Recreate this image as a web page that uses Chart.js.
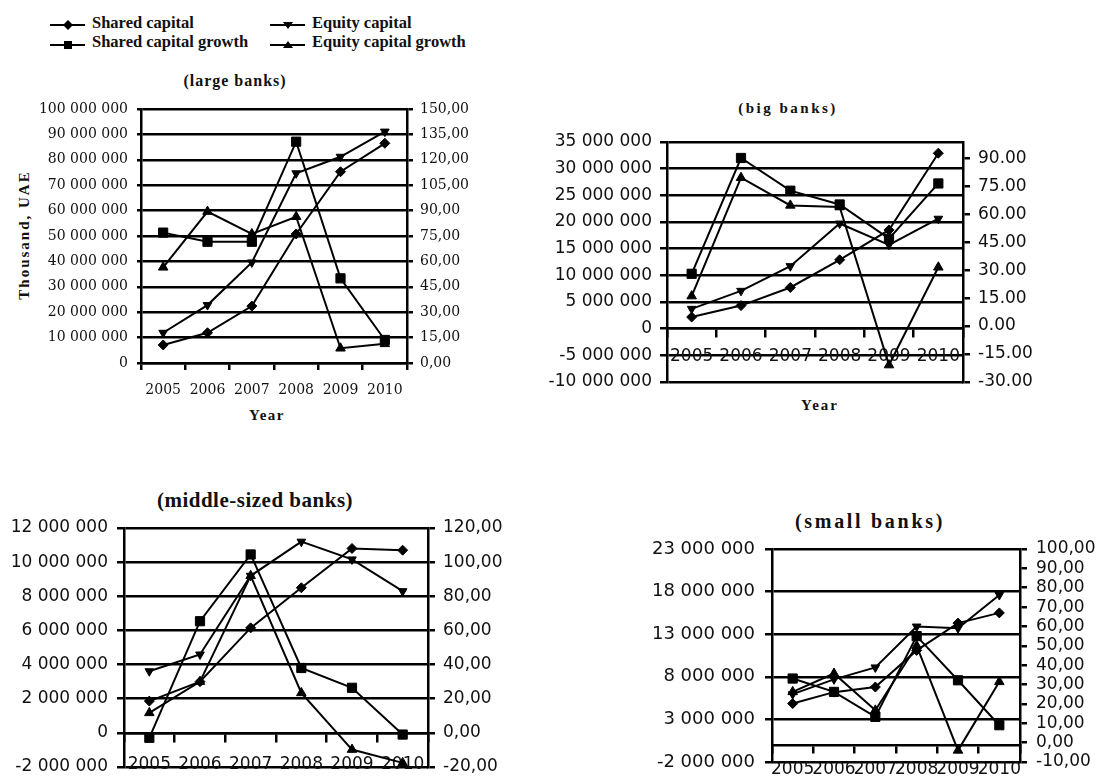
<!DOCTYPE html>
<html><head><meta charset="utf-8">
<script src="https://cdn.jsdelivr.net/npm/chart.js@4.4.1/dist/chart.umd.min.js"></script>
<style>
html,body{margin:0;padding:0;background:#fff;width:1102px;height:776px;overflow:hidden;}
canvas{position:absolute;}
.t{position:absolute;text-align:center;white-space:nowrap;color:#111;font-family:'Liberation Serif','Times New Roman',serif;font-weight:bold;}
.lg{position:absolute;white-space:nowrap;color:#111;font-family:'Liberation Serif','Times New Roman',serif;font-weight:bold;font-size:16.5px;line-height:17px;}
</style></head><body>
<svg style="position:absolute;left:0;top:0" width="480" height="60">
  <line x1="50" y1="25" x2="85" y2="25" stroke="#000" stroke-width="2"/>
  <polygon points="68,20 73,25 68,30 63,25" fill="#000"/>
  <line x1="270" y1="25" x2="305" y2="25" stroke="#000" stroke-width="2"/>
  <polygon points="283,22 293,22 288,29" fill="#000"/>
  <line x1="50" y1="45" x2="85" y2="45" stroke="#000" stroke-width="2"/>
  <rect x="64" y="41" width="8" height="8" fill="#000"/>
  <line x1="270" y1="45" x2="305" y2="45" stroke="#000" stroke-width="2"/>
  <polygon points="283,48 293,48 288,41" fill="#000"/>
</svg>
<div class="lg" id="lg0" style="left:92px;top:14px"></div>
<div class="lg" id="lg1" style="left:312px;top:14px"></div>
<div class="lg" id="lg2" style="left:92px;top:33px"></div>
<div class="lg" id="lg3" style="left:312px;top:33px"></div>

<div class="t" style="left:135px;width:200px;top:73px;font-size:16px;line-height:16px;letter-spacing:1px">(large banks)</div>
<div class="t" style="left:-76px;width:200px;top:227px;height:16px;font-size:15px;line-height:16px;letter-spacing:2px;transform:rotate(-90deg);transform-origin:100px 8px">Thousand, UAE</div>
<div class="t" style="left:217px;width:100px;top:407px;font-size:15px;line-height:16px;letter-spacing:1.5px">Year</div>

<div class="t" style="left:688px;width:200px;top:100px;font-size:15px;line-height:16px;letter-spacing:2.5px">(big banks)</div>
<div class="t" style="left:770px;width:100px;top:397px;font-size:15px;line-height:16px;letter-spacing:2px">Year</div>

<div class="t" style="left:105px;width:300px;top:489px;font-size:21px;line-height:22px;letter-spacing:0.5px">(middle-sized banks)</div>
<div class="t" style="left:720px;width:300px;top:511px;font-size:20px;line-height:21px;letter-spacing:2.7px">(small banks)</div>

<canvas id="cLarge" width="480" height="310" style="left:0;top:90px"></canvas>
<canvas id="cBig" width="540" height="280" style="left:520px;top:120px"></canvas>
<canvas id="cMid" width="520" height="285" style="left:0;top:505px"></canvas>
<canvas id="cSmall" width="462" height="265" style="left:640px;top:525px"></canvas>

<script>
// ---------- data ----------
const years = ['2005', '2006', '2007', '2008', '2009', '2010'];
const seriesNames = ['Shared capital', 'Equity capital', 'Shared capital growth', 'Equity capital growth'];

// large banks
const largeShared = [7100000, 11900000, 22400000, 50800000, 75300000, 86500000];
const largeEquity = [11900000, 22800000, 39600000, 74700000, 81200000, 91100000];
const largeSharedGrowth = [77.0, 71.6, 71.6, 130.7, 50.0, 13.6];
const largeEquityGrowth = [56.5, 89.4, 76.2, 86.4, 8.7, 11.3];
const largeLeftTicks = ['0', '10 000 000', '20 000 000', '30 000 000', '40 000 000', '50 000 000', '60 000 000', '70 000 000', '80 000 000', '90 000 000', '100 000 000'];
const largeRightTicks = ['0,00', '15,00', '30,00', '45,00', '60,00', '75,00', '90,00', '105,00', '120,00', '135,00', '150,00'];

// big banks
const bigShared = [2150000, 4300000, 7700000, 12900000, 18500000, 32900000];
const bigEquity = [3690000, 7070000, 11700000, 19700000, 15700000, 20600000];
const bigSharedGrowth = [28.1, 90.4, 72.8, 65.4, 47.0, 76.7];
const bigEquityGrowth = [16.1, 79.8, 64.9, 64.0, -21.0, 31.6];
const bigLeftTicks = ['-10 000 000', '-5 000 000', '0', '5 000 000', '10 000 000', '15 000 000', '20 000 000', '25 000 000', '30 000 000', '35 000 000'];
const bigRightTicks = ['-30.00', '-15.00', '0.00', '15.00', '30.00', '45.00', '60.00', '75.00', '90.00'];
const bigRightMax = 99;

// middle-sized banks
const midShared = [1860000, 3000000, 6150000, 8500000, 10800000, 10700000];
const midEquity = [3610000, 4590000, 9200000, 11200000, 10160000, 8300000];
const midSharedGrowth = [-2.9, 65.4, 104.5, 38.0, 26.4, -1.0];
const midEquityGrowth = [11.7, 30.0, 92.0, 23.4, -9.8, -17.6];
const midLeftTicks = ['-2 000 000', '0', '2 000 000', '4 000 000', '6 000 000', '8 000 000', '10 000 000', '12 000 000'];
const midRightTicks = ['-20,00', '0,00', '20,00', '40,00', '60,00', '80,00', '100,00', '120,00'];

// small banks
const smallShared = [4860000, 6200000, 6800000, 11100000, 14300000, 15500000];
const smallEquity = [5960000, 7700000, 9100000, 13900000, 13700000, 17600000];
const smallSharedGrowth = [33.1, 26.2, 13.3, 55.0, 32.2, 9.0];
const smallEquityGrowth = [26.2, 35.7, 16.7, 50.0, -4.0, 31.4];
const smallLeftTicks = ['-2 000 000', '3 000 000', '8 000 000', '13 000 000', '18 000 000', '23 000 000'];
const smallRightTicks = ['-10,00', '0,00', '10,00', '20,00', '30,00', '40,00', '50,00', '60,00', '70,00', '80,00', '90,00', '100,00'];

// ---------- helpers ----------
seriesNames.forEach((n, i) => { document.getElementById('lg' + i).textContent = n; });

function toNum(s) { return parseFloat(s.replace(/\s/g, '').replace(',', '.')); }

const GRID_W = 2.5;

function yAxis(labels, side, o) {
  const vals = labels.map(toNum);
  return {
    type: 'linear', position: side,
    min: (o.min !== undefined) ? o.min : vals[0],
    max: (o.max !== undefined) ? o.max : vals[vals.length - 1],
    afterBuildTicks: s => { s.ticks = vals.map(v => ({ value: v })); },
    afterFit: s => { s.width = o.width; },
    grid: { drawOnChartArea: side === 'left', drawTicks: true, tickLength: o.tickLength, color: '#000', lineWidth: GRID_W },
    border: { display: true, color: '#000', width: GRID_W },
    ticks: { autoSkip: false, padding: o.padding, color: '#111', font: o.font, callback: (v, i) => labels[i] }
  };
}

function xAxis(o) {
  const ax = {
    type: 'category', offset: true,
    position: o.atZero ? { y: 0 } : 'bottom',
    grid: { drawOnChartArea: false, drawTicks: true, tickLength: o.tickLength, color: '#000', lineWidth: GRID_W, offset: true },
    border: { display: true, color: '#000', width: GRID_W },
    ticks: { autoSkip: false, maxRotation: 0, minRotation: 0, padding: o.padding, color: '#111', font: o.font }
  };
  if (!o.atZero) ax.afterFit = s => { s.height = o.height; };
  return ax;
}

function makeDatasets(sh, eq, shg, eqg) {
  const base = { borderColor: '#000', backgroundColor: '#000', borderWidth: 2, pointBackgroundColor: '#000', pointBorderColor: '#000', pointBorderWidth: 1, tension: 0, fill: false, clip: false };
  return [
    Object.assign({}, base, { label: seriesNames[0], data: sh, yAxisID: 'y', pointStyle: 'rectRot', pointRadius: 5 }),
    Object.assign({}, base, { label: seriesNames[1], data: eq, yAxisID: 'y', pointStyle: 'triangle', pointRotation: 180, pointRadius: 5 }),
    Object.assign({}, base, { label: seriesNames[2], data: shg, yAxisID: 'y1', pointStyle: 'rect', pointRadius: 6.5 }),
    Object.assign({}, base, { label: seriesNames[3], data: eqg, yAxisID: 'y1', pointStyle: 'triangle', pointRadius: 5.5 })
  ];
}

function make(id, datasets, scales, pad) {
  return new Chart(document.getElementById(id), {
    type: 'line',
    data: { labels: years, datasets: datasets },
    options: {
      responsive: false, animation: false, devicePixelRatio: 1,
      layout: { padding: { top: pad.top, bottom: pad.bottom, left: 0, right: 0 } },
      plugins: { legend: { display: false }, tooltip: { enabled: false }, title: { display: false } },
      scales: scales
    }
  });
}

// ---------- charts ----------
const fLarge = { family: 'DejaVu Serif', size: 14 };
make('cLarge', makeDatasets(largeShared, largeEquity, largeSharedGrowth, largeEquityGrowth), {
  x: xAxis({ atZero: false, tickLength: 7, padding: 12, font: fLarge, height: 37 }),
  y: yAxis(largeLeftTicks, 'left', { width: 141, tickLength: 4, padding: 9, font: fLarge }),
  y1: yAxis(largeRightTicks, 'right', { width: 73, tickLength: 6, padding: 7, font: fLarge })
}, { top: 19, bottom: 0 });

const fBig = { family: 'DejaVu Sans', size: 17 };
make('cBig', makeDatasets(bigShared, bigEquity, bigSharedGrowth, bigEquityGrowth), {
  x: xAxis({ atZero: true, tickLength: 8, padding: 10, font: fBig }),
  y: yAxis(bigLeftTicks, 'left', { width: 147, tickLength: 7, padding: 8, font: fBig }),
  y1: yAxis(bigRightTicks, 'right', { width: 97, tickLength: 7, padding: 8, font: fBig, max: bigRightMax })
}, { top: 22, bottom: 14 });

const fMid = { family: 'DejaVu Sans', size: 17 };
make('cMid', makeDatasets(midShared, midEquity, midSharedGrowth, midEquityGrowth), {
  x: xAxis({ atZero: true, tickLength: 8, padding: 14, font: fMid }),
  y: yAxis(midLeftTicks, 'left', { width: 124, tickLength: 7, padding: 9, font: fMid }),
  y1: yAxis(midRightTicks, 'right', { width: 92, tickLength: 7, padding: 8, font: fMid })
}, { top: 23, bottom: 23 });

make('cSmall', makeDatasets(smallShared, smallEquity, smallSharedGrowth, smallEquityGrowth), {
  x: xAxis({ atZero: true, tickLength: 7, padding: 7, font: { family: 'DejaVu Sans', size: 17 } }),
  y: yAxis(smallLeftTicks, 'left', { width: 132, tickLength: 7, padding: 10, font: { family: 'DejaVu Sans', size: 18 } }),
  y1: yAxis(smallRightTicks, 'right', { width: 82, tickLength: 7, padding: 9, font: { family: 'DejaVu Sans', size: 17 } })
}, { top: 24, bottom: 28 });
</script>
</body></html>
